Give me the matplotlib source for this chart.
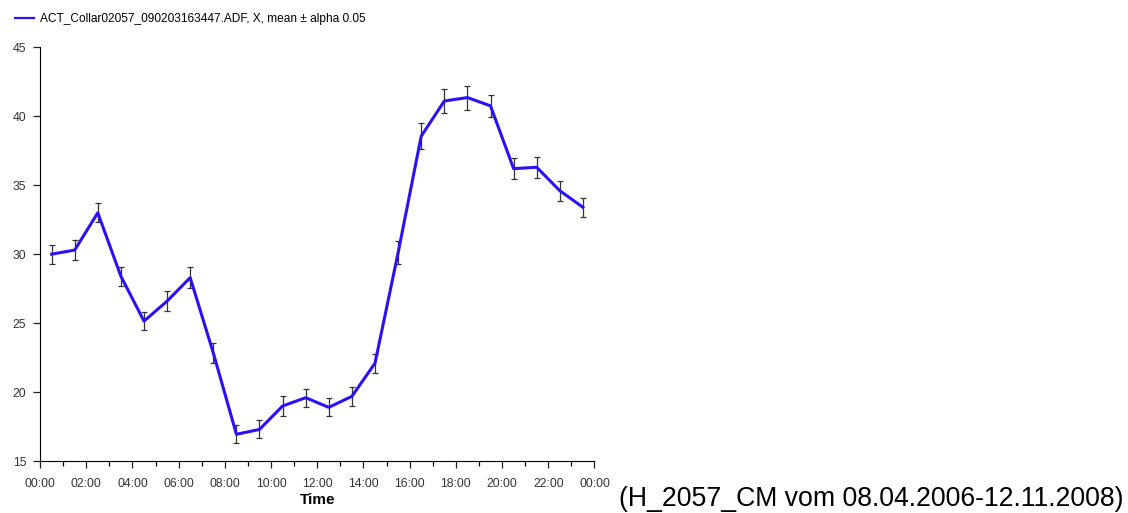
import numpy as np
import matplotlib
matplotlib.use("Agg")
import matplotlib.pyplot as plt
from matplotlib.ticker import MultipleLocator, FuncFormatter

plt.rcParams["font.family"] = ["Liberation Sans", "DejaVu Sans"]

# hourly means (bin centres at hh:30) and 95% half-widths
hours = np.arange(24) + 0.5
means = [30.0, 30.3, 33.0, 28.4, 25.15, 26.6, 28.3, 22.85, 16.95, 17.3, 19.0, 19.6,
         18.9, 19.7, 22.1, 30.1, 38.55, 41.1, 41.35, 40.75, 36.2, 36.3, 34.6, 33.4]
err = [0.7, 0.7, 0.7, 0.7, 0.65, 0.7, 0.75, 0.7, 0.65, 0.65, 0.7, 0.65,
       0.65, 0.7, 0.7, 0.83, 0.95, 0.9, 0.87, 0.8, 0.74, 0.75, 0.72, 0.7]
label = "ACT_Collar02057_090203163447.ADF, X, mean \u00b1 alpha 0.05"
note = "(H_2057_CM vom 08.04.2006-12.11.2008)"

fig = plt.figure(figsize=(11.28, 5.13), dpi=100)
ax = fig.add_axes([0.0355, 0.101, 0.4915, 0.807])

ax.errorbar(hours, means, yerr=err, fmt="none", ecolor="#333333", elinewidth=0.9,
            capsize=2.5, capthick=0.9, zorder=2)
line, = ax.plot(hours, means, color="#2a10f5", lw=2.2, zorder=3)

ax.set_xlim(0, 24)
ax.set_ylim(15, 45)
ax.xaxis.set_major_locator(MultipleLocator(2))
ax.xaxis.set_minor_locator(MultipleLocator(1))
ax.xaxis.set_major_formatter(FuncFormatter(lambda v, p: f"{int(v) % 24:02d}:00"))
ax.yaxis.set_major_locator(MultipleLocator(5))
for s in ("top", "right"):
    ax.spines[s].set_visible(False)
ax.tick_params(labelsize=8.8, direction="out", length=5, width=0.9,
               colors="#222222", labelcolor="#333333", pad=5)
ax.tick_params(axis="x", pad=7)
ax.tick_params(which="minor", length=3.5, width=0.9)
ax.set_xlabel("Time", fontsize=11, fontweight="bold", labelpad=2)

leg = fig.legend([line], [label], loc="center left", bbox_to_anchor=(0.004, 0.963),
                 frameon=False, fontsize=8.6, handlelength=1.6, handletextpad=0.5)
leg.get_lines()[0].set_linewidth(1.6)
fig.text(0.549, 0.013, note, fontsize=19.2, ha="left", va="baseline")

fig.savefig("out.png", dpi=100)
